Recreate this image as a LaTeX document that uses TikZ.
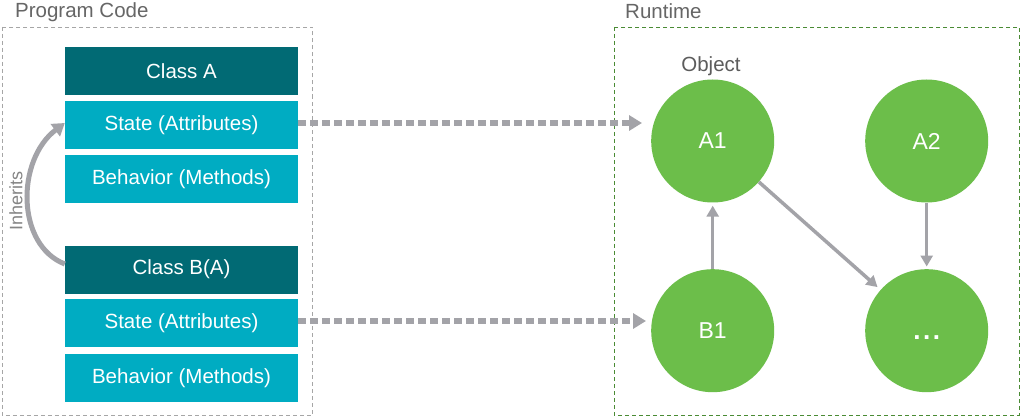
\documentclass[tikz,border=0pt]{standalone}
\usepackage{fontspec}
\setmainfont{Liberation Sans}
\usetikzlibrary{arrows.meta}
\definecolor{hdr}{HTML}{016A74}
\definecolor{cyanbox}{HTML}{00ACC2}
\definecolor{grn}{HTML}{6CBE4A}
\definecolor{arr}{HTML}{A3A3A8}
\definecolor{ttl}{HTML}{666666}
\definecolor{lbord}{HTML}{A6A6A6}
\definecolor{rbord}{HTML}{4A8B34}
\begin{document}
\begin{tikzpicture}[x=1pt,y=-1pt,
  hdrbox/.style={fill=hdr, text=white, minimum width=233pt, minimum height=48pt, inner sep=0pt, font=\fontsize{20.5}{24}\selectfont},
  membox/.style={hdrbox, fill=cyanbox},
  obj/.style={circle, fill=grn, text=white, minimum size=123pt, inner sep=0pt, font=\fontsize{23}{27}\selectfont},
  title/.style={text=ttl, inner sep=0pt, font=\fontsize{20.5}{24}\selectfont},
  flow/.style={draw=arr, line width=6pt, dash pattern=on 8pt off 4pt, -{Triangle[length=13pt,width=15pt]}},
  ref/.style={draw=arr, line width=3.5pt, -{Triangle[length=11pt,width=12pt]}},
  border/.style={line width=0.9pt, dash pattern=on 4pt off 3pt}]
\useasboundingbox (0,0) rectangle (1021,417);
\fill[white] (0,0) rectangle (1021,417);
% panels
\draw[border, draw=lbord] (2,27) rectangle (312.5,415);
\draw[border, draw=rbord] (614,27) rectangle (1019,415);
\node[title, anchor=base west] (tpc) at (15,18) {Program Code};
\node[title, anchor=base west] (trt) at (625,19) {Runtime};
% classes
\node[hdrbox] (cA) at (181.5,71) {Class A};
\node[membox] (sA) at (181.5,125) {State (Attributes)};
\node[membox] (bA) at (181.5,179.5) {Behavior (Methods)};
\node[hdrbox] (cB) at (181.5,269.5) {Class B(A)};
\node[membox] (sB) at (181.5,323) {State (Attributes)};
\node[membox] (bB) at (181.5,378) {Behavior (Methods)};
% objects
\node[title, anchor=base, text=ttl!90!black] (lobj) at (711,72) {Object};
\node[obj] (A1) at (712.7,141) {A1};
\node[obj] (A2) at (926.7,141) {A2};
\node[obj] (B1) at (712.7,330.7) {B1};
\node[obj, font=\fontsize{26}{30}\selectfont\bfseries] (dots) at (926.7,330.7) {\vphantom{A}.\hspace{2.5pt}.\hspace{2.5pt}.};
% inherits
\draw[draw=arr, line width=5pt, -{Triangle[length=12pt,width=15pt]}]
  ([yshift=5.5pt]cB.west) .. controls (16,245) and (16,160) .. ([yshift=2pt]sA.west);
\node[text=ttl!80, rotate=90, inner sep=0pt, font=\fontsize{18}{22}\selectfont] (inh) at (16,201) {Inherits};
% instance flows
\draw[flow, shorten >=9pt] ([yshift=2pt]sA.east) -- ([yshift=2pt]sA.east -| A1.west);
\draw[flow, shorten >=5pt] ([yshift=2pt]sB.east) -- ([yshift=2pt]sB.east -| B1.west);
% references
\draw[ref, shorten >=3pt] (B1) -- (A1);
\draw[ref, shorten >=2.5pt] (A2) -- (dots);
\draw[ref, shorten >=4pt] (A1) -- (dots);
\end{tikzpicture}
\end{document}
